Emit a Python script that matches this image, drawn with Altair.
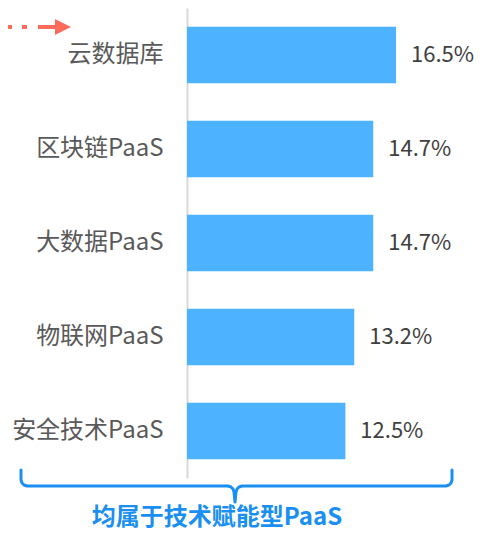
import altair as alt
import pandas as pd

categories = ["云数据库", "区块链PaaS", "大数据PaaS", "物联网PaaS", "安全技术PaaS"]
values = [16.5, 14.7, 14.7, 13.2, 12.5]
value_labels = ["16.5%", "14.7%", "14.7%", "13.2%", "12.5%"]
note_text = "均属于技术赋能型PaaS"

FONT = "Noto Sans CJK SC"
BAR_COLOR = "#4DB2FF"
BLUE = "#1A8FF2"
RED = "#FF6B5B"

df = pd.DataFrame({"cat": categories, "val": values, "lab": value_labels})

W, H = 289, 470
xscale = alt.Scale(domain=[0, 22.81], nice=False, zero=True)
yscale = alt.Scale(domain=categories, paddingInner=0.4, paddingOuter=0.2)

base = alt.Chart(df)

bars = base.mark_bar(color=BAR_COLOR).encode(
    x=alt.X("val:Q", scale=xscale, axis=None),
    y=alt.Y("cat:N", scale=yscale, sort=categories, title=None,
            axis=alt.Axis(domain=True, domainColor="#D9D9D9", domainWidth=2,
                          ticks=False, grid=False, labelFont=FONT, labelFontSize=24,
                          labelColor="#595959", labelPadding=24)),
)

texts = base.mark_text(align="left", baseline="middle", dx=15, font=FONT,
                       fontSize=22, color="#404040").encode(
    x=alt.X("val:Q", scale=xscale),
    y=alt.Y("cat:N", scale=yscale, sort=categories),
    text="lab:N",
)

# brace path (decoration, in pixel space of the plot area)
brace_pts = [(21, 470), (21, 480), (22, 483), (24, 485), (27, 486), (228, 486), (231, 487),
             (233, 489), (234, 492), (235, 502), (236, 492), (237, 489), (239, 487),
             (242, 486), (446, 486), (449, 485), (451, 483), (452, 480), (452, 470)]
brace_df = pd.DataFrame({"px": [p[0] - 187 for p in brace_pts],
                         "py": [p[1] - 8 for p in brace_pts],
                         "o": list(range(len(brace_pts)))})
brace = alt.Chart(brace_df).mark_line(color=BLUE, strokeWidth=3, strokeJoin="round",
                                      strokeCap="round").encode(
    x=alt.X("px:Q", scale=None, axis=None), y=alt.Y("py:Q", scale=None, axis=None),
    order="o:Q")

one = alt.Chart(pd.DataFrame({"a": [0]}))
note = one.mark_text(font=FONT, fontSize=24, fontWeight="bold", color=BLUE,
                     align="center", baseline="alphabetic").encode(
    x=alt.value(30), y=alt.value(517), text=alt.value(note_text))

arrow_line = one.mark_rule(color=RED, strokeWidth=4, strokeDash=[4, 10, 5, 11, 17, 60]).encode(
    x=alt.value(-179), x2=alt.value(-131), y=alt.value(19))
arrow_head = one.mark_point(shape="M-1,-1L1,0L-1,1Z", filled=True, color=RED, opacity=1,
                            size=256).encode(x=alt.value(-124), y=alt.value(19))

chart = alt.layer(bars, texts, brace, note, arrow_line, arrow_head).properties(
    width=W, height=H,
    autosize=alt.AutoSizeParams(type="none"),
    padding={"left": 179, "top": 0, "right": 0, "bottom": 54},
).configure(background="white").configure_view(stroke=None)

chart.save("out.html", embed_options={"renderer": "svg", "actions": False})
